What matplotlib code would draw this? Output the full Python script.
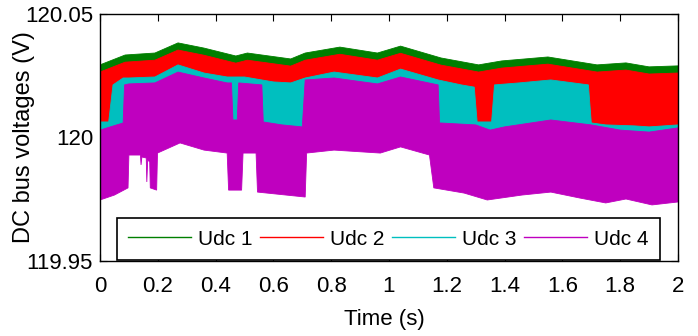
import matplotlib
matplotlib.use("Agg")
import matplotlib.pyplot as plt
from matplotlib.lines import Line2D
import numpy as np

# ---------------- data (envelopes of the fast-ripple DC bus voltages) ----------------
series_names = ["Udc 1", "Udc 2", "Udc 3", "Udc 4"]
series_colors = ["#007f00", "#ff0000", "#00bfbf", "#bf00bf"]

# Udc 1 (green) upper envelope
u1_t_hi = [0, 0.087, 0.19, 0.27, 0.36, 0.47, 0.51, 0.66, 0.71, 0.83, 0.96, 1.04,
           1.18, 1.31, 1.39, 1.55, 1.72, 1.82, 1.90, 2.0]
u1_hi = [120.0294, 120.0334, 120.0342, 120.0383, 120.0362, 120.0330, 120.0342,
         120.0318, 120.0342, 120.0366, 120.0342, 120.0370, 120.0322, 120.0294,
         120.0310, 120.0326, 120.0294, 120.0302, 120.0286, 120.0290]
u1_t_lo = [0, 2.0]
u1_lo = [120.0200, 120.0200]

# Udc 2 (red)
u2_t_hi = [0, 0.087, 0.19, 0.27, 0.36, 0.47, 0.51, 0.66, 0.71, 0.83, 0.96, 1.04,
           1.18, 1.31, 1.39, 1.55, 1.72, 1.82, 1.90, 2.0]
u2_hi = [120.0265, 120.0305, 120.0313, 120.0354, 120.0333, 120.0301, 120.0313,
         120.0289, 120.0313, 120.0337, 120.0313, 120.0341, 120.0293, 120.0265,
         120.0281, 120.0297, 120.0265, 120.0273, 120.0257, 120.0261]
u2_t_lo = [0, 2.0]
u2_lo = [120.0030, 120.0030]

# Udc 3 (cyan)
u3_t_hi = [0, 0.03, 0.045, 0.08, 0.10, 0.19, 0.27, 0.36, 0.44, 0.50, 0.60, 0.66,
           0.71, 0.81, 0.96, 1.04, 1.17, 1.25, 1.295, 1.305, 1.355, 1.365, 1.45,
           1.56, 1.69, 1.70, 1.75, 1.85, 1.90, 2.0]
u3_hi = [120.0063, 120.0063, 120.0213, 120.0241, 120.0241, 120.0245, 120.0294,
         120.0261, 120.0245, 120.0245, 120.0225, 120.0221, 120.0241, 120.0265,
         120.0241, 120.0277, 120.0233, 120.0213, 120.0204, 120.0063, 120.0063,
         120.0213, 120.0221, 120.0233, 120.0213, 120.0059, 120.0051, 120.0047,
         120.0043, 120.0051]
u3_t_lo = [0, 2.0]
u3_lo = [120.0010, 120.0010]

# Udc 4 (magenta)
u4_t_hi = [0, 0.08, 0.085, 0.10, 0.19, 0.27, 0.36, 0.44, 0.455, 0.46, 0.475, 0.48,
           0.56, 0.565, 0.63, 0.70, 0.71, 0.81, 0.96, 1.04, 1.17, 1.175, 1.30,
           1.35, 1.40, 1.56, 1.70, 1.80, 1.90, 2.0]
u4_hi = [120.0030, 120.0059, 120.0213, 120.0217, 120.0221, 120.0265, 120.0241,
         120.0221, 120.0221, 120.0071, 120.0071, 120.0221, 120.0213, 120.0063,
         120.0051, 120.0043, 120.0233, 120.0241, 120.0217, 120.0245, 120.0213,
         120.0059, 120.0051, 120.0030, 120.0043, 120.0071, 120.0051, 120.0030,
         120.0022, 120.0039]
u4_t_lo = [0, 0.05, 0.097, 0.10, 0.14, 0.142, 0.145, 0.16, 0.162, 0.165, 0.172,
           0.174, 0.196, 0.199, 0.277, 0.36, 0.44, 0.445, 0.49, 0.495, 0.54, 0.545,
           0.71, 0.715, 0.81, 0.97, 1.04, 1.14, 1.155, 1.26, 1.34, 1.46, 1.56, 1.66,
           1.75, 1.82, 1.91, 2.0]
u4_lo = [119.9747, 119.9767, 119.9796, 119.9929, 119.9929, 119.9889, 119.9921,
         119.9917, 119.9820, 119.9909, 119.9901, 119.9796, 119.9787, 119.9937,
         119.9978, 119.9949, 119.9937, 119.9787, 119.9787, 119.9937, 119.9937,
         119.9779, 119.9759, 119.9937, 119.9949, 119.9937, 119.9962, 119.9929,
         119.9796, 119.9775, 119.9747, 119.9767, 119.9779, 119.9755, 119.9735,
         119.9751, 119.9727, 119.9739]

x_ticks = [0, 0.2, 0.4, 0.6, 0.8, 1.0, 1.2, 1.4, 1.6, 1.8, 2.0]
x_ticklabels = ["0", "0.2", "0.4", "0.6", "0.8", "1", "1.2", "1.4", "1.6", "1.8", "2"]
y_ticks = [119.95, 120.0, 120.05]
y_ticklabels = ["119.95", "120", "120.05"]
x_label = "Time (s)"
y_label = "DC bus voltages (V)"

# ---------------- figure ----------------
narrow = ["Liberation Sans", "DejaVu Sans"]
regular = ["Liberation Sans", "DejaVu Sans"]

fig = plt.figure(figsize=(6.98, 3.36), dpi=100)
ax = fig.add_axes([100 / 698, 1 - 261 / 336, 578 / 698, 247 / 336])

bands = [
    (u1_t_hi, u1_hi, u1_t_lo, u1_lo),
    (u2_t_hi, u2_hi, u2_t_lo, u2_lo),
    (u3_t_hi, u3_hi, u3_t_lo, u3_lo),
    (u4_t_hi, u4_hi, u4_t_lo, u4_lo),
]
for (th, hi, tl, lo), col in zip(bands, series_colors):
    xs = np.r_[np.asarray(th), np.asarray(tl)[::-1]]
    ys = np.r_[np.asarray(hi), np.asarray(lo)[::-1]]
    ax.fill(xs, ys, color=col, linewidth=0.6, edgecolor=col, zorder=2)

ax.set_xlim(0, 2)
ax.set_ylim(119.95, 120.05)
ax.set_xticks(x_ticks)
ax.set_xticklabels(x_ticklabels, family=narrow, fontsize=16)
ax.set_yticks(y_ticks)
ax.set_yticklabels(y_ticklabels, family=narrow, fontsize=16)
ax.tick_params(axis="both", direction="in", top=True, right=True, length=5,
               width=0.8, colors="black")
ax.tick_params(axis="x", pad=11)
ax.tick_params(axis="y", pad=5)
for sp in ax.spines.values():
    sp.set_linewidth(1.0)
    sp.set_color("black")
    sp.set_zorder(5)

handles = [Line2D([0], [0], color=c, linewidth=1.0) for c in series_colors]
leg = ax.legend(handles, series_names, loc="lower left",
                bbox_to_anchor=(17 / 578, 1 / 247, 543 / 578, 49 / 247),
                mode="expand", ncol=4, frameon=True, fancybox=False,
                prop={"family": narrow, "size": 15}, handlelength=3.0,
                handletextpad=0.35, borderaxespad=0, borderpad=0.55,
                columnspacing=1.0)
leg.get_frame().set_edgecolor("black")
leg.get_frame().set_linewidth(1.2)
leg.get_frame().set_alpha(1.0)
leg.set_zorder(6)

fig.text(384 / 698, 1 - 320 / 336, x_label, ha="center", va="center",
         family=narrow, fontsize=16)
fig.text(24 / 698, 1 - 137 / 336, y_label, ha="center", va="center",
         rotation=90, family=regular, fontsize=17)

fig.savefig("out.png", dpi=100)
